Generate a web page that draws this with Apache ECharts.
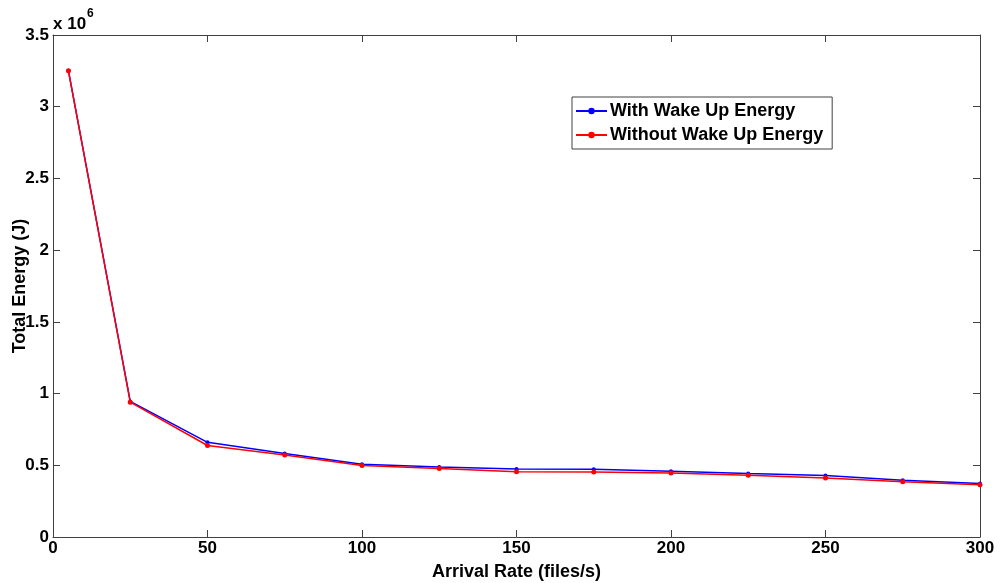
<!DOCTYPE html>
<html><head><meta charset="utf-8">
<script src="https://cdn.jsdelivr.net/npm/echarts@6/dist/echarts.min.js"></script>
<style>html,body{margin:0;padding:0;background:#fff}#c{width:1000px;height:583px}</style>
</head><body><div id="c"></div>
<script>
const arrivalRate = [5, 25, 50, 75, 100, 125, 150, 175, 200, 225, 250, 275, 300];
const withWakeUp = [3.25, 0.945, 0.66, 0.582, 0.508, 0.488, 0.474, 0.472, 0.458, 0.442, 0.428, 0.396, 0.373];
const withoutWakeUp = [3.25, 0.94, 0.638, 0.572, 0.498, 0.478, 0.455, 0.454, 0.446, 0.431, 0.411, 0.385, 0.364];
const seriesNames = ['With Wake Up Energy', 'Without Wake Up Energy'];
const xTicks = [0, 50, 100, 150, 200, 250, 300];
const yTicks = [0, 0.5, 1, 1.5, 2, 2.5, 3, 3.5];

const font = 'Liberation Sans, Arial, sans-serif';
const axisColor = '#404040';
const chart = echarts.init(document.getElementById('c'));
const lineStyle = {color: axisColor, width: 1};
chart.setOption({
  animation: false,
  grid: {left: 53, right: 20, top: 35, bottom: 46, containLabel: false, outerBoundsMode: 'none'},
  legend: {
    left: 572, top: 97, orient: 'vertical',
    data: seriesNames,
    backgroundColor: '#fff', borderColor: axisColor, borderWidth: 1,
    padding: [5, 9, 5, 3], itemGap: 6, itemWidth: 31, itemHeight: 8,
    textStyle: {fontFamily: font, fontWeight: 'bold', fontSize: 18, color: '#000', padding: [0, 0, 0, -2]}
  },
  xAxis: [{
    type: 'value', min: 0, max: 300, interval: 50,
    axisLine: {show: true, lineStyle}, axisTick: {show: true, inside: true, length: 7, lineStyle},
    splitLine: {show: false},
    axisLabel: {fontFamily: font, fontWeight: 'bold', fontSize: 17, color: '#000', margin: 3,
      formatter: v => xTicks.includes(v) ? String(v) : ''},
    name: 'Arrival Rate (files/s)', nameLocation: 'middle', nameGap: 26, nameMoveOverlap: false,
    nameTextStyle: {fontFamily: font, fontWeight: 'bold', fontSize: 18, color: '#000'}
  }, {
    type: 'value', min: 0, max: 300, interval: 50, position: 'top',
    axisLine: {show: true, onZero: false, lineStyle}, axisTick: {show: true, inside: true, length: 7, lineStyle},
    axisLabel: {show: false}, splitLine: {show: false}
  }],
  yAxis: [{
    type: 'value', min: 0, max: 3.5, interval: 0.5,
    axisLine: {show: true, lineStyle}, axisTick: {show: true, inside: true, length: 7, lineStyle},
    splitLine: {show: false},
    axisLabel: {fontFamily: font, fontWeight: 'bold', fontSize: 17, color: '#000', margin: 4,
      formatter: v => yTicks.includes(v) ? String(v) : ''},
    name: 'Total Energy (J)', nameLocation: 'middle', nameGap: 24, nameRotate: 90, nameMoveOverlap: false,
    nameTextStyle: {fontFamily: font, fontWeight: 'bold', fontSize: 18, color: '#000'}
  }, {
    type: 'value', min: 0, max: 3.5, interval: 0.5, position: 'right',
    axisLine: {show: true, onZero: false, lineStyle}, axisTick: {show: true, inside: true, length: 7, lineStyle},
    axisLabel: {show: false}, splitLine: {show: false}
  }],
  graphic: [{
    type: 'text', left: 53, top: 8,
    style: {
      text: '{a|x 10}{b|6}',
      rich: {
        a: {fontFamily: font, fontWeight: 'bold', fontSize: 17, fill: '#000', verticalAlign: 'bottom', padding: [8, 0, 0, 0]},
        b: {fontFamily: font, fontWeight: 'bold', fontSize: 12, fill: '#000', verticalAlign: 'top', padding: [0, 0, 10, 1]}
      }
    }
  }],
  series: [{
    name: seriesNames[0], type: 'line',
    data: arrivalRate.map((x, i) => [x, withWakeUp[i]]),
    color: '#0000ff', symbol: 'circle', symbolSize: 4, lineStyle: {width: 1.5, color: '#0000ff'},
    itemStyle: {color: '#0000ff'}
  }, {
    name: seriesNames[1], type: 'line',
    data: arrivalRate.map((x, i) => [x, withoutWakeUp[i]]),
    color: '#ff0000', symbol: 'circle', symbolSize: 5, lineStyle: {width: 1.5, color: '#ff0000'},
    itemStyle: {color: '#ff0000'}
  }]
});
</script></body></html>
